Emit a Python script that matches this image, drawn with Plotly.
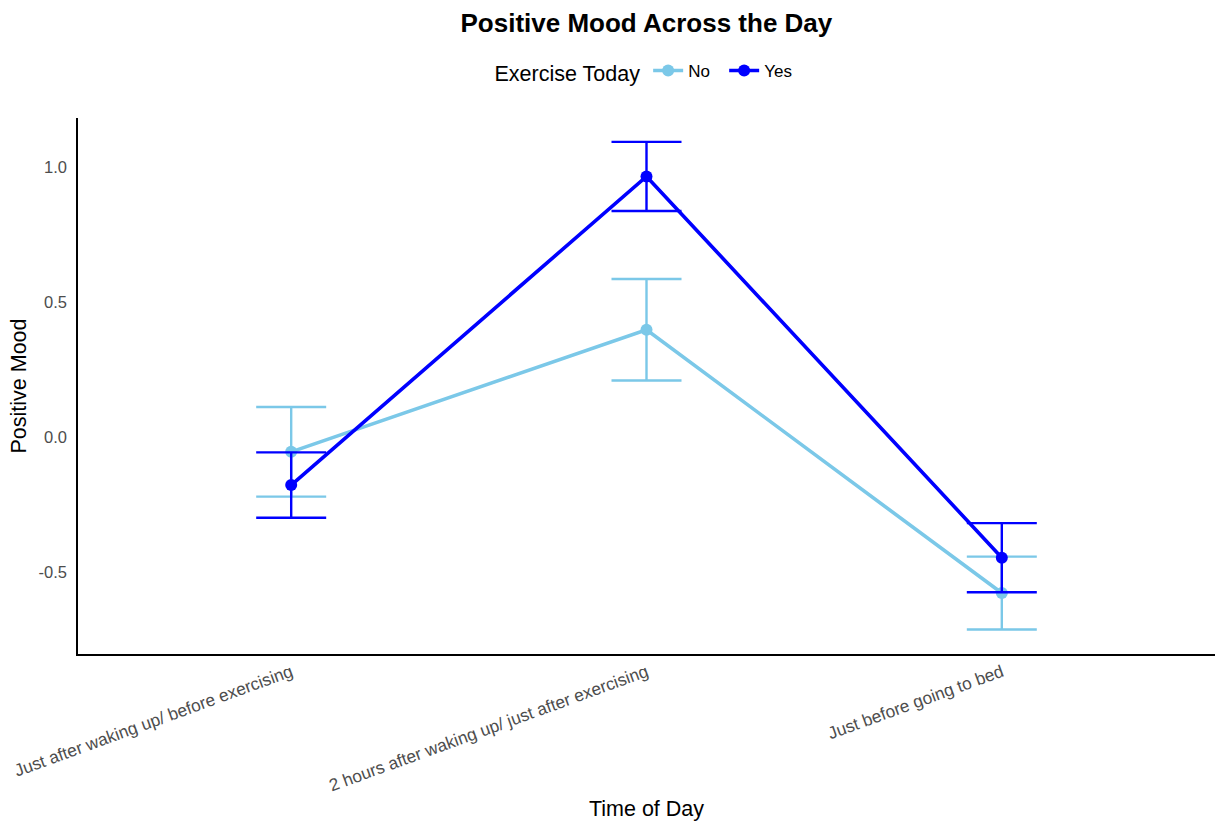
import plotly.graph_objects as go

# Time points and mean positive mood with standard errors per group
time_points = [
    "Just after waking up/ before exercising",
    "2 hours after waking up/ just after exercising",
    "Just before going to bed",
]
mood_no = [-0.055, 0.397, -0.578]
se_no = [0.166, 0.188, 0.135]
mood_yes = [-0.178, 0.965, -0.447]
se_yes = [0.121, 0.128, 0.128]

groups = [
    ("No", mood_no, se_no, "#7BC8E8"),
    ("Yes", mood_yes, se_yes, "#0000FF"),
]

fig = go.Figure()
for name, vals, se, color in groups:
    fig.add_trace(go.Scatter(
        x=time_points, y=vals, name=name, mode="lines+markers",
        line=dict(color=color, width=3.6),
        marker=dict(color=color, size=12),
        error_y=dict(type="data", array=se, visible=True,
                     color=color, thickness=2.4, width=35),
    ))

fig.update_layout(
    width=1215, height=821,
    margin=dict(l=78, r=0, t=118, b=167),
    paper_bgcolor="white", plot_bgcolor="white",
    font=dict(family="Liberation Sans, Arial, sans-serif", color="black"),
    title=dict(text="<b>Positive Mood Across the Day</b>", x=0.532, xanchor="center",
               y=1 - 23 / 821, yanchor="middle", font=dict(size=26, color="black")),
    legend=dict(orientation="h", x=0.5, xanchor="center", y=1.086, yanchor="middle",
                title=dict(text="Exercise Today", font=dict(size=21.5)),
                font=dict(size=17), itemwidth=30, entrywidth=31),
    showlegend=True,
)
fig.update_xaxes(
    type="category", range=[-0.6, 2.6], showgrid=False, zeroline=False,
    showline=True, linecolor="black", linewidth=1.5, ticks="", automargin=False,
    tickangle=-20, tickfont=dict(size=17.3, color="#4D4D4D"),
    title=dict(text="Time of Day", font=dict(size=21.5), standoff=16),
)
fig.update_yaxes(
    range=[-0.8037, 1.1815], showgrid=False, zeroline=False,
    showline=True, linecolor="black", linewidth=1.5, ticks="", automargin=False,
    tickvals=[-0.5, 0.0, 0.5, 1.0], ticktext=["-0.5", "0.0", "0.5", "1.0"],
    tickfont=dict(size=16.5, color="#4D4D4D"), ticklabelstandoff=6,
    title=dict(text="Positive Mood", font=dict(size=21.5), standoff=6),
)

fig.write_html("out.html")
